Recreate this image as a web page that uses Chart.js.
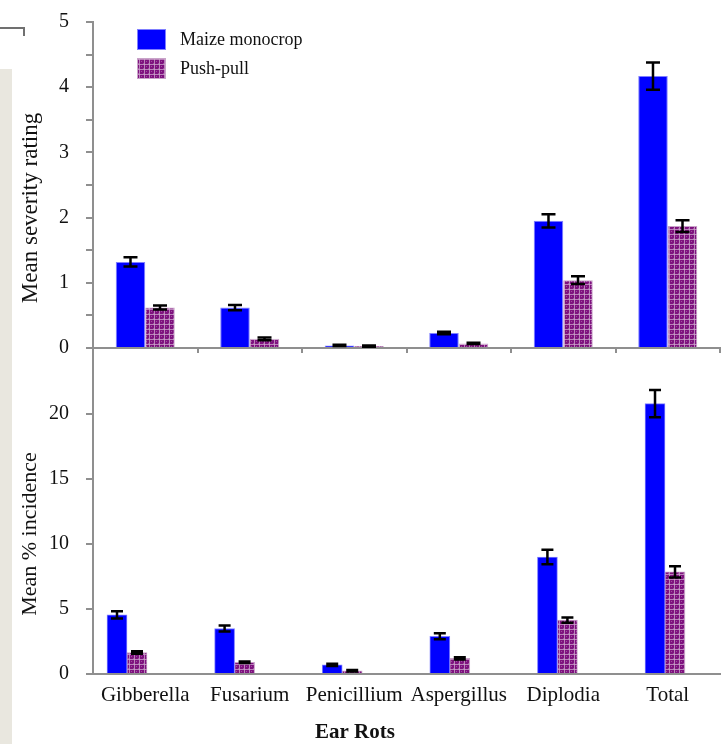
<!DOCTYPE html>
<html>
<head>
<meta charset="utf-8">
<script src="https://cdn.jsdelivr.net/npm/chart.js@4.4.1/dist/chart.umd.min.js"></script>
<style>
  html, body { margin: 0; padding: 0; background: #fff; }
  body { width: 726px; height: 744px; position: relative; overflow: hidden; }
  #strip { position: absolute; left: 0; top: 69px; width: 12px; height: 675px; background: #e9e7df; }
  #corner { position: absolute; left: 0; top: 27px; width: 23px; height: 7px; border-top: 2px solid #707070; border-right: 2px solid #707070; }
  #top, #bottom { position: absolute; left: 0; }
  #top { top: 0; }
  #bottom { top: 340px; }
</style>
</head>
<body>
<div id="strip"></div>
<div id="corner"></div>
<canvas id="top" width="726" height="355"></canvas>
<canvas id="bottom" width="726" height="404"></canvas>
<script>
// Ear rot data
const categories = ['Gibberella', 'Fusarium', 'Penicillium', 'Aspergillus', 'Diplodia', 'Total'];
const seriesNames = ['Maize monocrop', 'Push-pull'];

const severityMonocrop = [1.32, 0.62, 0.04, 0.23, 1.95, 4.17];
const severityMonocropErr = [0.07, 0.04, 0.01, 0.02, 0.10, 0.21];
const severityPushPull = [0.62, 0.14, 0.03, 0.07, 1.04, 1.87];
const severityPushPullErr = [0.03, 0.02, 0.01, 0.01, 0.06, 0.09];

const incidenceMonocrop = [4.55, 3.5, 0.7, 2.9, 9.0, 20.8];
const incidenceMonocropErr = [0.28, 0.23, 0.08, 0.23, 0.55, 1.05];
const incidencePushPull = [1.65, 0.9, 0.25, 1.2, 4.14, 7.85];
const incidencePushPullErr = [0.1, 0.06, 0.05, 0.08, 0.2, 0.43];

const severityTicks = [0, 1, 2, 3, 4, 5];
const incidenceTicks = [0, 5, 10, 15, 20];

const SERIF = '"Liberation Serif", "Times New Roman", serif';
const AXIS_GRAY = '#8f8f8f';
const BLUE = '#0000ff';

// purple cross-hatched fill used for push-pull
function makePattern() {
  const c = document.createElement('canvas');
  c.width = 5; c.height = 5;
  const g = c.getContext('2d');
  g.fillStyle = '#7f127f';
  g.fillRect(0, 0, 5, 5);
  g.fillStyle = 'rgba(205,170,205,0.75)';
  g.fillRect(4, 0, 1, 5);
  g.fillRect(0, 4, 5, 1);
  g.fillStyle = 'rgba(190,150,190,0.5)';
  g.fillRect(1, 1, 1, 1);
  g.fillRect(3, 3, 1, 1);
  return g.createPattern(c, 'repeat');
}
const purpleFill = makePattern();

// error bars drawn from the *Err arrays through the value scale
const errorBars = {
  id: 'errorBars',
  afterDatasetsDraw(chart, args, opts) {
    const ctx = chart.ctx;
    const yScale = chart.scales.y;
    ctx.save();
    ctx.strokeStyle = '#000';
    ctx.lineWidth = 2.5;
    chart.data.datasets.forEach((ds, di) => {
      const meta = chart.getDatasetMeta(di);
      meta.data.forEach((bar, i) => {
        const v = typeof ds.data[i] === 'object' ? ds.data[i].y : ds.data[i];
        const e = ds.errors[i];
        const yHi = yScale.getPixelForValue(v + e);
        const yLo = yScale.getPixelForValue(v - e);
        const w = opts.cap;
        ctx.beginPath();
        ctx.moveTo(bar.x, yHi); ctx.lineTo(bar.x, yLo);
        ctx.moveTo(bar.x - w, yHi); ctx.lineTo(bar.x + w, yHi);
        ctx.moveTo(bar.x - w, yLo); ctx.lineTo(bar.x + w, yLo);
        ctx.stroke();
      });
    });
    ctx.restore();
  }
};

// free-placed axis titles (the originals sit off-centre)
const axisText = {
  id: 'axisText',
  afterDraw(chart, args, opts) {
    const ctx = chart.ctx;
    (opts.items || []).forEach(t => {
      ctx.save();
      ctx.translate(t.x, t.y);
      if (t.rotate) ctx.rotate(t.rotate);
      ctx.font = t.font;
      ctx.fillStyle = '#111';
      ctx.textAlign = 'center';
      ctx.textBaseline = 'middle';
      ctx.fillText(t.text, 0, 0);
      ctx.restore();
    });
  }
};

// legend inside the plot area, stacked
const innerLegend = {
  id: 'innerLegend',
  afterDraw(chart, args, opts) {
    if (!opts.show) return;
    const ctx = chart.ctx;
    const a = chart.chartArea;
    ctx.save();
    ctx.font = '18px ' + SERIF;
    ctx.textBaseline = 'middle';
    chart.data.datasets.forEach((ds, i) => {
      const x = a.left + 44, y = a.top + 7 + i * 29;
      ctx.fillStyle = ds.backgroundColor;
      ctx.fillRect(x, y, 29, 21);
      ctx.strokeStyle = ds.borderColor;
      ctx.lineWidth = 1;
      ctx.strokeRect(x + 0.5, y + 0.5, 28, 20);
      ctx.fillStyle = '#111';
      ctx.fillText(ds.label, x + 43, y + 11);
    });
    ctx.restore();
  }
};

Chart.register(errorBars, axisText, innerLegend);

function yAxis(max, step, shown) {
  return {
    min: 0, max: max,
    // fixed width, and no extra label padding above/below the plot
    afterFit: s => { s.width = 93; s.paddingTop = 0; s.paddingBottom = 0; },
    border: { color: AXIS_GRAY, width: 2 },
    grid: { drawOnChartArea: false, tickLength: 7, color: AXIS_GRAY, lineWidth: 2 },
    ticks: {
      stepSize: step, padding: 17, color: '#111',
      font: { family: SERIF, size: 20 },
      callback: v => shown.includes(v) ? String(v) : (v < max ? '' : null)
    }
  };
}

// top: mean severity rating
new Chart(document.getElementById('top'), {
  type: 'bar',
  data: {
    labels: categories,
    datasets: [
      { label: seriesNames[0], data: severityMonocrop, errors: severityMonocropErr,
        backgroundColor: BLUE, borderColor: '#7f7fff', borderWidth: 1 },
      { label: seriesNames[1], data: severityPushPull, errors: severityPushPullErr,
        backgroundColor: purpleFill, borderColor: '#c9a3c9', borderWidth: 1 }
    ]
  },
  options: {
    responsive: false,
    animation: false,
    layout: { padding: { left: 0, right: 6, top: 22, bottom: 0 } },
    datasets: { bar: { categoryPercentage: 0.565, barPercentage: 1 } },
    scales: {
      x: {
        afterFit: s => { s.height = 7; },
        border: { color: AXIS_GRAY, width: 2 },
        grid: { offset: true, drawOnChartArea: false, tickLength: 5, color: AXIS_GRAY, lineWidth: 2 },
        ticks: { display: false }
      },
      y: yAxis(5, 0.5, severityTicks)
    },
    plugins: {
      legend: { display: false },
      tooltip: { enabled: false },
      errorBars: { cap: 7 },
      innerLegend: { show: true },
      axisText: { items: [
        { text: 'Mean severity rating', x: 31, y: 208, rotate: -Math.PI / 2, font: '23px ' + SERIF }
      ] }
    }
  }
});

// bottom: mean % incidence (bars sit on a hidden linear axis, labels on the category axis)
new Chart(document.getElementById('bottom'), {
  type: 'bar',
  data: {
    labels: categories,
    datasets: [
      { label: seriesNames[0], xAxisID: 'xb', errors: incidenceMonocropErr,
        data: incidenceMonocrop.map((v, i) => ({ x: i, y: v })),
        backgroundColor: BLUE, borderColor: '#7f7fff', borderWidth: 1 },
      { label: seriesNames[1], xAxisID: 'xb', errors: incidencePushPullErr,
        data: incidencePushPull.map((v, i) => ({ x: i, y: v })),
        backgroundColor: purpleFill, borderColor: '#c9a3c9', borderWidth: 1 }
    ]
  },
  options: {
    responsive: false,
    animation: false,
    layout: { padding: { left: 0, right: 6, top: 9, bottom: 0 } },
    datasets: { bar: { barThickness: 20 } },
    scales: {
      x: {
        type: 'category',
        position: 'bottom',
        afterFit: s => { s.height = 70; },
        border: { color: AXIS_GRAY, width: 2 },
        grid: { offset: true, drawOnChartArea: false, drawTicks: false },
        ticks: { padding: 9, autoSkip: false, maxRotation: 0, color: '#111',
                 font: { family: SERIF, size: 21 } }
      },
      xb: {
        type: 'linear', position: 'bottom', display: false, offset: false,
        min: -0.316, max: 5.511
      },
      y: yAxis(25, 5, incidenceTicks)
    },
    plugins: {
      legend: { display: false },
      tooltip: { enabled: false },
      errorBars: { cap: 6 },
      innerLegend: { show: false },
      axisText: { items: [
        { text: 'Mean % incidence', x: 30, y: 194, rotate: -Math.PI / 2, font: '22px ' + SERIF },
        { text: 'Ear Rots', x: 355, y: 393, font: 'bold 21px ' + SERIF }
      ] }
    }
  }
});
</script>
</body>
</html>
